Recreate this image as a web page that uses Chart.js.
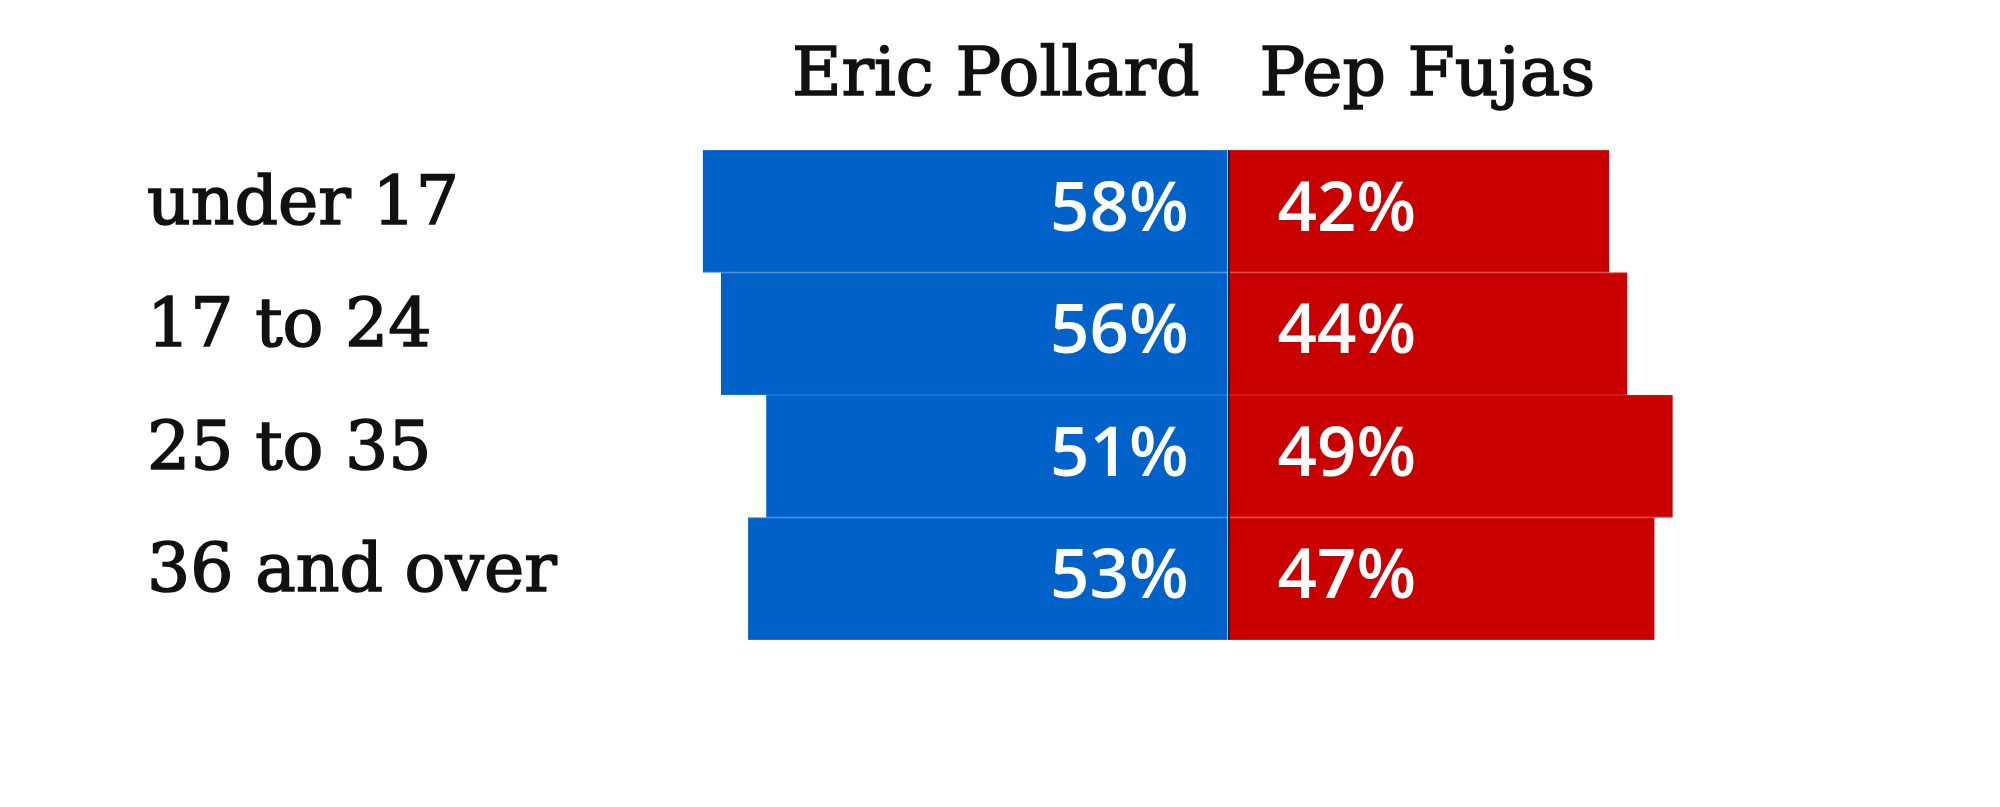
<!DOCTYPE html>
<html>
<head>
<meta charset="utf-8">
<script src="https://cdn.jsdelivr.net/npm/chart.js@4.4.1/dist/chart.umd.min.js"></script>
<style>
    html, body { margin: 0; padding: 0; background: #fff; }
    #wrap { width: 2000px; height: 807px; }
</style>
</head>
<body>
<div id="wrap"><canvas id="ageChart" width="2000" height="807"></canvas></div>
<script>
// Age groups and vote shares (percent)
const ageGroups = ['under 17', '17 to 24', '25 to 35', '36 and over'];
const pollardShare = [58, 56, 51, 53];
const fujasShare = [42, 44, 49, 47];
const candidateNames = ['Eric Pollard', 'Pep Fujas'];

const BLUE = '#0062c8';
const RED = '#c80000';
const SERIF = '"DejaVu Serif", serif';

// Header names + percent labels inside the bars
const labelPlugin = {
    id: 'labelPlugin',
    afterDatasetsDraw: function(chart) {
        let ctx = chart.ctx;
        let zero = chart.scales.x.getPixelForValue(0);
        ctx.save();

        // candidate names above the bars (stroked a bit for a heavier slab look)
        ctx.fillStyle = '#111';
        ctx.strokeStyle = '#111';
        ctx.lineWidth = 1.6;
        ctx.font = '68px ' + SERIF;
        ctx.textBaseline = 'alphabetic';
        ctx.textAlign = 'right';
        ctx.fillText(chart.data.datasets[0].label, zero - 29, 95);
        ctx.strokeText(chart.data.datasets[0].label, zero - 29, 95);
        ctx.textAlign = 'left';
        ctx.fillText(chart.data.datasets[1].label, zero + 31, 95);
        ctx.strokeText(chart.data.datasets[1].label, zero + 31, 95);

        // percentages
        ctx.fillStyle = '#fff';
        ctx.font = '600 69px "Open Sans"';
        ctx.textBaseline = 'middle';
        chart.data.datasets.forEach(function(ds, i) {
            let meta = chart.getDatasetMeta(i);
            meta.data.forEach(function(bar, j) {
                let txt = Math.abs(ds.data[j]) + '%';
                if ( i === 0 ) {
                    ctx.textAlign = 'right';
                    ctx.fillText(txt, zero - 40, bar.y);
                }
                else {
                    ctx.textAlign = 'left';
                    ctx.fillText(txt, zero + 49, bar.y);
                }
            });
        });
        ctx.restore();
    }
};

let ctx = document.getElementById('ageChart').getContext('2d');
new Chart(ctx, {
    type: 'bar',
    data: {
        labels: ageGroups,
        datasets: [
            {
                label: candidateNames[0],
                data: pollardShare.map(v => -v),
                backgroundColor: BLUE,
                borderColor: '#2a78d0',
                borderWidth: { top: 1, bottom: 1, left: 0, right: 0 },
                borderSkipped: false,
                barPercentage: 1,
                categoryPercentage: 1
            },
            {
                label: candidateNames[1],
                data: fujasShare,
                backgroundColor: RED,
                borderColor: '#d22424',
                borderWidth: { top: 1, bottom: 1, left: 0, right: 0 },
                borderSkipped: false,
                barPercentage: 1,
                categoryPercentage: 1
            }
        ]
    },
    options: {
        indexAxis: 'y',
        responsive: false,
        animation: false,
        events: [],
        layout: {
            padding: { left: 147, right: 137, top: 150, bottom: 167 }
        },
        plugins: {
            legend: { display: false },
            tooltip: { enabled: false }
        },
        scales: {
            x: {
                stacked: true,
                min: -70,
                max: 70,
                ticks: { display: false, stepSize: 10 },
                border: { display: false },
                grid: {
                    drawTicks: false,
                    lineWidth: 2,
                    color: function(c) {
                        return c.tick && c.tick.value === 0 ? '#1b2238' : 'rgba(0,0,0,0)';
                    }
                }
            },
            y: {
                stacked: true,
                border: { display: false },
                grid: { display: false, drawTicks: false },
                ticks: {
                    crossAlign: 'far',
                    color: '#111',
                    textStrokeColor: '#111',
                    textStrokeWidth: 1.6,
                    padding: 0,
                    labelOffset: -5,
                    font: { family: SERIF, size: 68 }
                },
                afterFit: function(scale) {
                    scale.width = 447;
                }
            }
        }
    },
    plugins: [labelPlugin]
});
</script>
</body>
</html>
